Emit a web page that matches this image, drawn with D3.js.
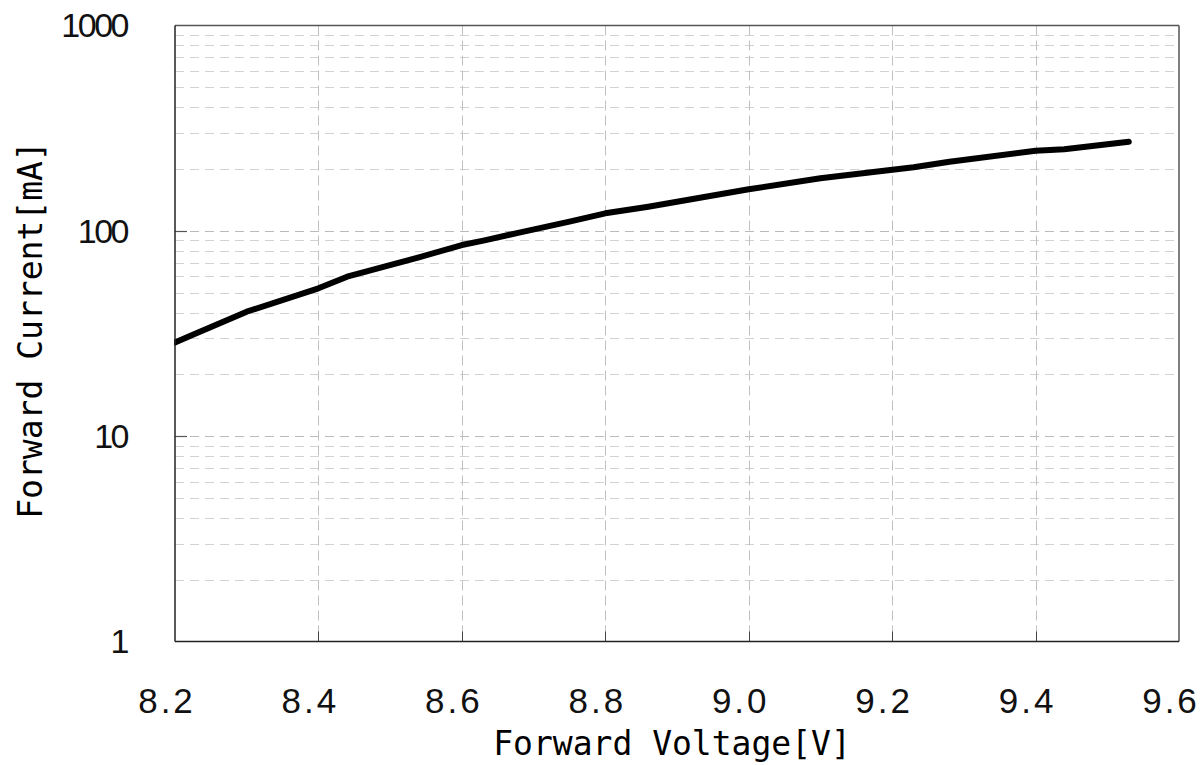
<!DOCTYPE html>
<html>
<head>
<meta charset="utf-8">
<script src="https://cdn.jsdelivr.net/npm/d3@7"></script>
<style>
  html, body { margin: 0; padding: 0; background: #fff; }
  svg { display: block; }
</style>
</head>
<body>
<svg id="chart" width="1203" height="765"></svg>
<script>
// Forward voltage (V) vs forward current (mA)
const voltage = [8.20, 8.22, 8.30, 8.40, 8.44, 8.54, 8.60, 8.63, 8.68, 8.75, 8.80, 8.86, 9.00, 9.10, 9.23, 9.28, 9.40, 9.44, 9.53];
const current = [28.6, 30.7, 40.4, 52.5, 59.8, 74.3, 85.3, 89.6, 98.0, 110.8, 121.7, 131.1, 159.4, 180.3, 203.9, 217.1, 245.6, 249.5, 271.8];

const xTicks = [8.2, 8.4, 8.6, 8.8, 9.0, 9.2, 9.4, 9.6];
const yTicks = [1, 10, 100, 1000];

const svg = d3.select("#chart");
const pL = 175, pR = 1179, pT = 25.5, pB = 641.5;

const x = d3.scaleLinear().domain([8.2, 9.6]).range([pL, pR]);
const y = d3.scaleLog().domain([1, 1000]).range([pB, pT]);

const grid = svg.append("g");

// minor horizontal grid (2..9 in each decade)
const minor = [];
for (let d = 1; d < 1000; d *= 10) for (let k = 2; k <= 9; k++) minor.push(d * k);
grid.selectAll("line.minor").data(minor).join("line")
  .attr("x1", pL).attr("x2", pR)
  .attr("y1", d => Math.round(y(d)) + 0.5).attr("y2", d => Math.round(y(d)) + 0.5)
  .attr("stroke", "#d2d2d2").attr("stroke-width", 1)
  .attr("stroke-dasharray", "9,6");

// major horizontal grid
grid.selectAll("line.major").data([10, 100]).join("line")
  .attr("x1", pL).attr("x2", pR)
  .attr("y1", d => Math.round(y(d)) + 0.5).attr("y2", d => Math.round(y(d)) + 0.5)
  .attr("stroke", "#bababa").attr("stroke-width", 1)
  .attr("stroke-dasharray", "9,6");

// vertical grid
const innerX = xTicks.slice(1, -1);
grid.selectAll("line.v").data(innerX).join("line")
  .attr("x1", d => Math.round(x(d)) + 0.5).attr("x2", d => Math.round(x(d)) + 0.5)
  .attr("y1", pT).attr("y2", pB)
  .attr("stroke", "#c0c0c0").attr("stroke-width", 1)
  .attr("stroke-dasharray", "10,5");

// inward tick marks
svg.append("g").selectAll("line").data(innerX).join("line")
  .attr("x1", d => Math.round(x(d)) + 0.5).attr("x2", d => Math.round(x(d)) + 0.5)
  .attr("y1", pB).attr("y2", pB - 10)
  .attr("stroke", "#444").attr("stroke-width", 1);
svg.append("g").selectAll("line").data([10, 100]).join("line")
  .attr("x1", pL).attr("x2", pL + 12)
  .attr("y1", d => Math.round(y(d)) + 0.5).attr("y2", d => Math.round(y(d)) + 0.5)
  .attr("stroke", "#555").attr("stroke-width", 1.2);

// frame
svg.append("line").attr("x1", pL).attr("x2", pR).attr("y1", pT).attr("y2", pT)
  .attr("stroke", "#555").attr("stroke-width", 1.5);
svg.append("line").attr("x1", pR).attr("x2", pR).attr("y1", pT).attr("y2", pB)
  .attr("stroke", "#555").attr("stroke-width", 1.5);
svg.append("line").attr("x1", pL).attr("x2", pR).attr("y1", pB).attr("y2", pB)
  .attr("stroke", "#222").attr("stroke-width", 1.5);

// curve
const pts = voltage.map((v, i) => [v, current[i]]);
svg.append("path")
  .datum(pts)
  .attr("fill", "none")
  .attr("stroke", "#000")
  .attr("stroke-width", 6)
  .attr("stroke-linecap", "round")
  .attr("stroke-linejoin", "round")
  .attr("d", d3.line().x(d => x(d[0])).y(d => y(d[1])));

// mask the start of the curve at the left axis
svg.append("rect").attr("x", 0).attr("y", pT).attr("width", pL - 1).attr("height", pB - pT)
  .attr("fill", "#fff");
svg.append("line").attr("x1", pL).attr("x2", pL).attr("y1", pT).attr("y2", pB)
  .attr("stroke", "#222").attr("stroke-width", 1.5);

// y tick labels
svg.append("g").selectAll("text").data(yTicks).join("text")
  .attr("x", 127).attr("y", d => y(d) + 3)
  .attr("text-anchor", "end").attr("dominant-baseline", "middle")
  .attr("font-family", "'Liberation Sans', Arial, sans-serif")
  .attr("font-size", 34).attr("letter-spacing", "-2.5px").attr("fill", "#111")
  .text(d => d);

// x tick labels
svg.append("g").selectAll("text").data(xTicks).join("text")
  .attr("x", d => x(d) - 8).attr("y", 713)
  .attr("text-anchor", "middle")
  .attr("font-family", "'Liberation Sans', Arial, sans-serif")
  .attr("font-size", 35).attr("letter-spacing", "3px").attr("fill", "#111")
  .text(d => d.toFixed(1));

// axis titles
svg.append("text")
  .attr("x", 672).attr("y", 755)
  .attr("text-anchor", "middle")
  .attr("font-family", "'DejaVu Sans Mono', monospace")
  .attr("font-size", 33).attr("fill", "#000")
  .text("Forward Voltage[V]");

svg.append("text")
  .attr("transform", "translate(42,330) rotate(-90)")
  .attr("text-anchor", "middle")
  .attr("font-family", "'DejaVu Sans Mono', monospace")
  .attr("font-size", 33).attr("fill", "#000")
  .text("Forward Current[mA]");
</script>
</body>
</html>
